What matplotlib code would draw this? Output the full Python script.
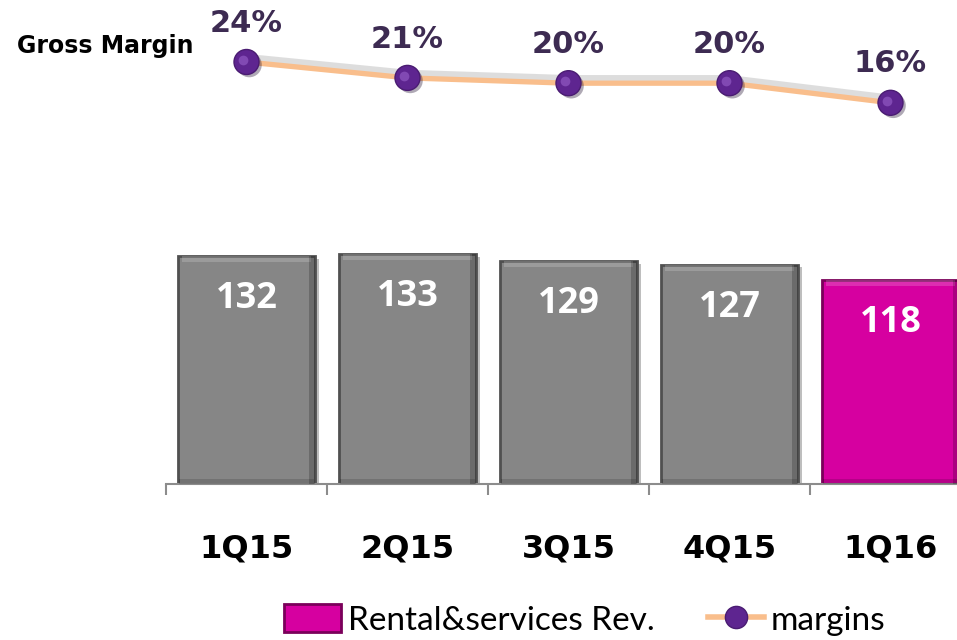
import numpy as np
import matplotlib.pyplot as plt
import matplotlib.patheffects as pe
import matplotlib.transforms as mtransforms
from matplotlib.patches import Patch
from matplotlib.lines import Line2D

quarters = ["1Q15", "2Q15", "3Q15", "4Q15", "1Q16"]
revenue = [132, 133, 129, 127, 118]
margins = [23.6, 20.6, 19.6, 19.6, 15.9]
bar_colors = ["#868686", "#868686", "#868686", "#868686", "#d600a0"]
edge_colors = ["#505050", "#505050", "#505050", "#505050", "#7a005a"]

fig = plt.figure(figsize=(9.57, 6.4), dpi=100)
ax = fig.add_axes([166 / 957, 1 - 484 / 640, 791 / 957, 484 / 640])
x = np.arange(len(quarters))

bars = ax.bar(x, revenue, width=0.85, color=bar_colors, edgecolor=edge_colors,
              linewidth=2, zorder=2,
              path_effects=[pe.SimplePatchShadow(offset=(3, -2), alpha=0.3), pe.Normal()])
# bevel: lighter top strip, darker right and bottom strips
ax.bar(x, [3.5] * len(x), bottom=np.array(revenue) - 3.5, width=0.8,
       color="white", alpha=0.18, zorder=3, linewidth=0)
ax.bar(x + 0.405, revenue, width=0.035, color="black", alpha=0.2, zorder=3, linewidth=0)
ax.bar(x, [3] * len(x), width=0.84, color="black", alpha=0.15, zorder=3, linewidth=0)

for xi, v in zip(x, revenue):
    ax.annotate(str(v), (xi, v), xytext=(0, -31), textcoords="offset points",
                ha="center", va="center", color="white", fontsize=26,
                fontweight="bold", family="Open Sans", zorder=5)

for s in ["left", "right", "top"]:
    ax.spines[s].set_visible(False)
ax.spines["bottom"].set_color("#8c8c8c")
ax.spines["bottom"].set_linewidth(1.5)
ax.set_yticks([])
ax.set_xticks(np.arange(-0.5, len(quarters), 1.0))
ax.set_xticklabels([])
ax.tick_params(axis="x", which="major", length=8, width=1.5, color="#8c8c8c")
ax.set_xticks(x, minor=True)
ax.set_xticklabels(quarters, minor=True, fontsize=23, fontweight="bold",
                   family="DejaVu Sans")
ax.tick_params(axis="x", which="minor", length=0, pad=36)

# margins line on its own scale
ax2 = ax.twinx()
ax2.axis("off")
shadow = ax2.transData + mtransforms.ScaledTranslation(0, 4 / 100, fig.dpi_scale_trans)
ax2.plot(x, margins, color="#bdbdbd", linewidth=6, alpha=0.5, zorder=1, transform=shadow)
ax2.plot(x, margins, color="#f9be8c", linewidth=3.8, zorder=2)
ax2.plot(x, margins, linestyle="none", marker="o", markersize=18,
         markerfacecolor="#5e2590", markeredgecolor="#4a1c72", markeredgewidth=1,
         zorder=3, path_effects=[pe.SimplePatchShadow(offset=(2, -2), alpha=0.35), pe.Normal()])
ax2.plot(np.array(x) - 0.02, np.array(margins) + 0.35, linestyle="none", marker="o",
         markersize=7, markerfacecolor="#9a62cc", markeredgewidth=0, alpha=0.6, zorder=4)
for xi, m in zip(x, margins):
    ax2.annotate(f"{m:.0f}%", (xi, m), xytext=(0, 28), textcoords="offset points",
                 ha="center", va="center", color="#3d2b52", fontsize=22,
                 fontweight="bold", family="DejaVu Sans")

ax.set_xlim(-0.5, -0.5 + 791 / 161)
ax.set_ylim(0, 484 / 1.727)
ax2.set_ylim(23.6 - 422 / 5.3, 23.6 + 62 / 5.3)

fig.text(17 / 957, 1 - 46 / 640, "Gross Margin", fontsize=17, fontweight="bold",
         family="DejaVu Sans", ha="left", va="center")

handles = [Patch(facecolor="#d600a0", edgecolor="#7a005a", linewidth=2),
           Line2D([0], [0], color="#f9be8c", linewidth=4, marker="o", markersize=16,
                  markerfacecolor="#5e2590", markeredgecolor="#4a1c72")]
fig.legend(handles, ["Rental&services Rev.", "margins"], loc="center",
           bbox_to_anchor=(585 / 957, 1 - 620 / 640), ncol=2, frameon=False,
           prop={"family": "Lato", "size": 24}, handlelength=1.7, handleheight=0.9,
           columnspacing=1.6, handletextpad=0.2)

fig.savefig("out.png", dpi=100)
